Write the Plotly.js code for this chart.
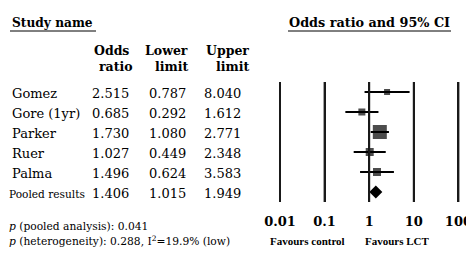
<!DOCTYPE html>
<html>
<head>
<meta charset="utf-8">
<script src="https://cdn.plot.ly/plotly-3.0.1.min.js"></script>
<style>html,body{margin:0;padding:0;background:#fff;}#chart{width:466px;height:266px;}</style>
</head>
<body>
<div id="chart"></div>
<script>
// ---- data ----
const studies = ["Gomez", "Gore (1yr)", "Parker", "Ruer", "Palma", "Pooled results"];
const oddsRatio = [2.515, 0.685, 1.730, 1.027, 1.496, 1.406];
const lowerLimit = [0.787, 0.292, 1.080, 0.449, 0.624, 1.015];
const upperLimit = [8.040, 1.612, 2.771, 2.348, 3.583, 1.949];
const studyWeightSize = [6, 7, 14, 8, 8];
const tickVals = [0.01, 0.1, 1, 10, 100];
const tickText = ["0.01", "0.1", "1", "10", "100"];
const pPooled = "0.041";
const pHetero = "0.288";
const iSquared = "19.9%";

// ---- layout geometry (pixels) ----
const W = 466, H = 266;
const FONT = "DejaVu Serif";
const xAt001 = 280, pxPerDec = 44.6, padL = 0.12, padR = 0.15;
const xLeft = xAt001 - padL * pxPerDec;
const xRight = xAt001 + (4 + padR) * pxPerDec;
const yTop = 82, yBot = 202;

const nStudy = studies.length - 1;

// one vertical reference line per decade, each its own trace on an overlay y axis (0..1)
const traces = tickVals.map(v => ({
  type: "scatter", mode: "lines", x: [v, v], y: [0, 1], yaxis: "y2",
  line: {color: "#1a1a1a", width: 2}, hoverinfo: "skip", showlegend: false
}));

traces.push({
  type: "scatter", mode: "markers",
  x: oddsRatio.slice(0, nStudy), y: studies.slice(0, nStudy),
  marker: {symbol: "square", size: studyWeightSize, color: "#000", line: {width: 0}},
  error_x: {type: "data", symmetric: false,
    array: upperLimit.slice(0, nStudy).map((u, i) => u - oddsRatio[i]),
    arrayminus: lowerLimit.slice(0, nStudy).map((l, i) => oddsRatio[i] - l),
    color: "#000", thickness: 2, width: 0},
  hoverinfo: "skip", showlegend: false
});
traces.push({
  type: "scatter", mode: "markers",
  x: [oddsRatio[nStudy]], y: [studies[nStudy]],
  marker: {symbol: "diamond", size: 10, color: "#000", line: {width: 0}},
  hoverinfo: "skip", showlegend: false
});

const colX = {name: 10, or: 110, lo: 167, up: 222};
const ann = [];
const txt = (text, x, y, size, opts) => Object.assign({
  text, x: x / W, y: 1 - y / H, xref: "paper", yref: "paper", showarrow: false,
  xanchor: "left", yanchor: "middle", font: {family: FONT, size, color: "#000"}
}, opts || {});

ann.push(txt("<b>Study name</b>", 10, 23, 12.2));
ann.push(txt("<b>Odds ratio and 95% CI</b>", 369.5, 23, 12.8, {xanchor: "center"}));
ann.push(txt("<b>Odds</b>", 131, 50, 12.5, {xanchor: "right"}));
ann.push(txt("<b>ratio</b>", 135, 67, 12.5, {xanchor: "right"}));
ann.push(txt("<b>Lower</b>", 190, 50, 12.5, {xanchor: "right"}));
ann.push(txt("<b>limit</b>", 190, 67, 12.5, {xanchor: "right"}));
ann.push(txt("<b>Upper</b>", 251, 50, 12.5, {xanchor: "right"}));
ann.push(txt("<b>limit</b>", 251, 67, 12.5, {xanchor: "right"}));

studies.forEach((s, i) => {
  const pooled = i === nStudy;
  const rowOpts = {yref: "y", y: s, yshift: -1.5};
  ann.push(Object.assign(txt(s, pooled ? 7 : colX.name, 0, pooled ? 10.6 : 13), rowOpts));
  ann.push(Object.assign(txt(oddsRatio[i].toFixed(3), colX.or, 0, 13, {xanchor: "center"}), rowOpts));
  ann.push(Object.assign(txt(lowerLimit[i].toFixed(3), colX.lo, 0, 13, {xanchor: "center"}), rowOpts));
  ann.push(Object.assign(txt(upperLimit[i].toFixed(3), colX.up, 0, 13, {xanchor: "center"}), rowOpts));
});

ann.push(txt("<i>p</i> (pooled analysis): " + pPooled, 7, 226, 10.7));
ann.push(txt("<i>p</i> (heterogeneity): " + pHetero + ", I<sup>2</sup>=" + iSquared + " (low)", 7, 241, 10.7));
const favFont = {family: "Liberation Serif", size: 11, color: "#000"};
ann.push(txt("<b>Favours control</b>", 307, 241, 11, {xanchor: "center", font: favFont}));
ann.push(txt("<b>Favours LCT</b>", 397.5, 241, 11, {xanchor: "center", font: favFont}));

const yDomain = [1 - yBot / H, 1 - yTop / H];
const layout = {
  width: W, height: H,
  margin: {l: 0, r: 0, t: 0, b: 0, pad: 0},
  paper_bgcolor: "#fff", plot_bgcolor: "rgba(0,0,0,0)",
  xaxis: {
    type: "log", range: [Math.log10(0.01) - padL, Math.log10(100) + padR],
    domain: [xLeft / W, Math.min(1, xRight / W)],
    showgrid: true, gridcolor: "#1a1a1a", gridwidth: 2,
    zeroline: false, showline: false, ticks: "",
    tickmode: "array", tickvals: tickVals, ticktext: tickText.map(t => "<b>" + t + "</b>"),
    tickfont: {family: FONT, size: 13, color: "#000"},
    ticklabelstandoff: 10, ticklabeloverflow: "allow", fixedrange: true
  },
  yaxis: {
    type: "category", categoryarray: studies, categoryorder: "array",
    range: [studies.length - 0.5, -0.5],
    domain: yDomain,
    showgrid: false, zeroline: false, showline: false, showticklabels: false, ticks: "",
    fixedrange: true
  },
  yaxis2: {
    overlaying: "y", range: [0, 1], visible: false, showgrid: false, zeroline: false, fixedrange: true
  },
  shapes: [
    {type: "line", xref: "paper", yref: "paper", x0: 10 / W, x1: 96 / W, y0: 1 - 31 / H, y1: 1 - 31 / H, line: {color: "#000", width: 1}},
    {type: "line", xref: "paper", yref: "paper", x0: 288 / W, x1: 451 / W, y0: 1 - 31 / H, y1: 1 - 31 / H, line: {color: "#000", width: 1}}
  ],
  annotations: ann
};

Plotly.newPlot("chart", traces, layout, {staticPlot: true, displayModeBar: false});
</script>
</body>
</html>
